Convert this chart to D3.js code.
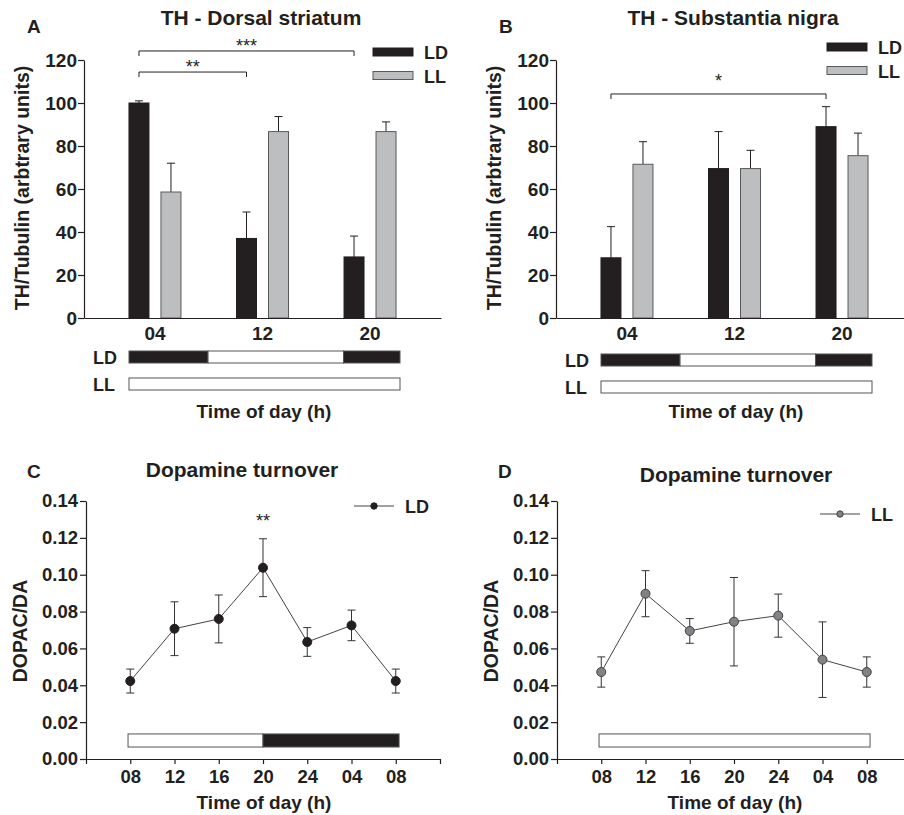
<!DOCTYPE html>
<html>
<head>
<meta charset="utf-8">
<script src="https://cdn.jsdelivr.net/npm/d3@7"></script>
<style>
body{margin:0;background:#fff}
text{font-family:"Liberation Sans",Arial,sans-serif;font-weight:bold;fill:#231f20}
</style>
</head>
<body>
<script>
var W=904, H=815
var ink='#231f20'

// A / B : TH western blots
var barTimes=['04','12','20']
var thTicks=[0,20,40,60,80,100,120]
var striatumLD=[100,37,28.4], striatumLDerr=[1,12.3,9.7]
var striatumLL=[58.6,86.7,86.7], striatumLLerr=[13.4,7,4.5]
var nigraLD=[28,69.5,89], nigraLDerr=[14.5,17.2,9.3]
var nigraLL=[71.5,69.5,75.5], nigraLLerr=[10.5,8.5,10.5]

// light schedule (hours) for the small bars under A / B
var schedLD=[[0,7,1],[7,19,0],[19,24,1]]
var schedLL=[[0,24,0]]

// C / D : dopamine turnover
var lineHours=[8,12,16,20,24,28,32]
var lineTimes=['08','12','16','20','24','04','08']
var turnTicks=[0,0.02,0.04,0.06,0.08,0.10,0.12,0.14]
var turnLD=[0.0423,0.0707,0.076,0.1038,0.0635,0.0725,0.0423]
var turnLDerr=[0.0065,0.0146,0.013,0.0157,0.0078,0.0083,0.0065]
var turnLL=[0.0472,0.0897,0.0695,0.0745,0.0778,0.0539,0.0472]
var turnLLerr=[0.0082,0.0125,0.0067,0.024,0.0117,0.0205,0.0082]
var schedC=[[7.8,20,0],[20,32.3,1]]
var schedD=[[7.8,32.3,0]]

var svg=d3.select('body').append('svg')
	.attr('width',W).attr('height',H)

function label(g,txt,x,y,size,anchor,rot){
	var t=g.append('text').text(txt)
		.attr('x',x).attr('y',y)
		.style('font-size',size+'px')
		.attr('text-anchor',anchor||'start')
	if(rot) t.attr('transform','rotate(-90,'+x+','+y+')')
	return t
}

function styleAxis(sel,size){
	sel.attr('color',ink)
	sel.selectAll('text').style('font-size',size+'px')
	sel.selectAll('line,path').attr('stroke-width',1.2)
}

function barPanel(p){
	var g=svg.append('g')
	var x=d3.scaleBand().domain(barTimes).range([p.left,p.left+357])
		.paddingInner(0).paddingOuter(0.16)
	var half=x.bandwidth()/2
	var xs=d3.scaleBand().domain(['LD','LL']).range([half-26,half+26]).paddingInner(0.375)
	var y=d3.scaleLinear().domain([0,120]).range([318,60])

	p.series.forEach(function(s){
		var gs=g.append('g')
		gs.selectAll('line.err').data(s.values).enter().append('line')
			.attr('x1',function(d,i){return x(barTimes[i])+xs(s.name)+xs.bandwidth()/2})
			.attr('x2',function(d,i){return x(barTimes[i])+xs(s.name)+xs.bandwidth()/2})
			.attr('y1',function(d){return y(d)})
			.attr('y2',function(d,i){return y(d+s.err[i])})
			.attr('stroke',ink).attr('stroke-width',1)
		gs.selectAll('line.cap').data(s.values).enter().append('line')
			.attr('x1',function(d,i){return x(barTimes[i])+xs(s.name)+xs.bandwidth()/2-4})
			.attr('x2',function(d,i){return x(barTimes[i])+xs(s.name)+xs.bandwidth()/2+4})
			.attr('y1',function(d,i){return y(d+s.err[i])})
			.attr('y2',function(d,i){return y(d+s.err[i])})
			.attr('stroke',ink).attr('stroke-width',1)
		gs.selectAll('rect').data(s.values).enter().append('rect')
			.attr('x',function(d,i){return x(barTimes[i])+xs(s.name)})
			.attr('y',function(d){return y(d)})
			.attr('width',xs.bandwidth())
			.attr('height',function(d){return y(0)-y(d)})
			.attr('fill',s.fill).attr('stroke',s.stroke).attr('stroke-width',1)
	})

	// significance brackets
	p.brackets.forEach(function(b){
		var x1=x(b.from)+xs('LD')+xs.bandwidth()/2,
			x2=x(b.to)+xs('LD')+xs.bandwidth()/2,
			yy=y(b.level)
		g.append('path')
			.attr('d','M'+x1+','+(yy+5)+'V'+yy+'H'+x2+'V'+(yy+5))
			.attr('fill','none').attr('stroke',ink).attr('stroke-width',1)
		label(g,b.label,(x1+x2)/2,yy+b.dy,18,'middle').style('font-weight','normal')
	})

	var ya=g.append('g').attr('transform','translate('+p.left+',0)')
		.call(d3.axisLeft(y).tickValues(thTicks).tickSize(6).tickSizeOuter(0).tickPadding(1))
	styleAxis(ya,19)
	var xa=g.append('g').attr('transform','translate(0,318)')
		.call(d3.axisBottom(x).tickSize(0).tickSizeOuter(0).tickPadding(9))
	styleAxis(xa,19)

	// legend
	p.series.forEach(function(s,i){
		g.append('rect').attr('x',p.legX).attr('y',p.legY+i*23.5)
			.attr('width',40).attr('height',8)
			.attr('fill',s.fill).attr('stroke',s.stroke)
		label(g,s.name,p.legX+51,p.legY+i*23.5+11,18)
	})

	// light schedule bars
	var lx=d3.scaleLinear().domain([0,24]).range([p.left+45,p.left+316])
	;[[schedLD,'LD',p.schedY],[schedLL,'LL',p.schedY+27]].forEach(function(r){
		g.selectAll(null).data(r[0]).enter().append('rect')
			.attr('x',function(d){return lx(d[0])})
			.attr('width',function(d){return lx(d[1])-lx(d[0])})
			.attr('y',r[2]).attr('height',12)
			.attr('fill',function(d){return d[2]?ink:'#fff'})
			.attr('stroke','#555').attr('stroke-width',1)
		label(g,r[1],p.left+9,r[2]+12.5,18)
	})

	label(g,p.letter,p.left-57,33,19)
	label(g,p.title,p.left+177,25,21,'middle')
	label(g,'TH/Tubulin (arbtrary units)',p.left-55,188,19.5,'middle',true)
	label(g,'Time of day (h)',p.left+180,418,19,'middle')
}

function linePanel(p){
	var g=svg.append('g')
	var x=d3.scaleLinear().domain([4,36]).range([p.left,p.left+354])
	var y=d3.scaleLinear().domain([0,0.14]).range([759,501])

	// light bar
	g.selectAll('rect.sched').data(p.sched).enter().append('rect')
		.attr('x',function(d){return x(d[0])})
		.attr('width',function(d){return x(d[1])-x(d[0])})
		.attr('y',y(0.0136)).attr('height',y(0.0065)-y(0.0136))
		.attr('fill',function(d){return d[2]?ink:'#fff'})
		.attr('stroke','#555').attr('stroke-width',1)

	var ya=g.append('g').attr('transform','translate('+p.left+',0)')
		.call(d3.axisLeft(y).tickValues(turnTicks).tickFormat(d3.format('.2f'))
			.tickSize(6).tickSizeOuter(0).tickPadding(2))
	styleAxis(ya,18.5)
	var xa=g.append('g').attr('transform','translate(0,759)')
		.call(d3.axisBottom(x).tickValues(lineHours)
			.tickFormat(function(d,i){return lineTimes[i]})
			.tickSize(5).tickSizeOuter(5).tickPadding(6))
	styleAxis(xa,18.5)

	// error bars
	g.selectAll('path.err').data(p.values).enter().append('path')
		.attr('d',function(d,i){
			var cx=x(lineHours[i]), t=y(d+p.err[i]), b=y(d-p.err[i])
			return 'M'+(cx-4)+','+t+'H'+(cx+4)+'M'+cx+','+t+'V'+b+'M'+(cx-4)+','+b+'H'+(cx+4)
		})
		.attr('fill','none').attr('stroke','#333').attr('stroke-width',1)

	var line=d3.line().x(function(d,i){return x(lineHours[i])}).y(function(d){return y(d)})
	g.append('path').datum(p.values).attr('d',line)
		.attr('fill','none').attr('stroke','#444').attr('stroke-width',1)

	g.selectAll('circle').data(p.values).enter().append('circle')
		.attr('cx',function(d,i){return x(lineHours[i])})
		.attr('cy',function(d){return y(d)})
		.attr('r',4.5)
		.attr('fill',p.fill).attr('stroke',p.stroke).attr('stroke-width',1)

	if(p.star){
		var i=lineHours.indexOf(p.star.at)
		label(g,p.star.label,x(p.star.at),y(p.values[i]+p.err[i])-12,18,'middle')
			.style('font-weight','normal')
	}

	// legend
	g.append('line').attr('x1',p.legX).attr('x2',p.legX+40)
		.attr('y1',p.legY).attr('y2',p.legY)
		.attr('stroke','#444').attr('stroke-width',1)
	g.append('circle').attr('cx',p.legX+20).attr('cy',p.legY).attr('r',3.2)
		.attr('fill',p.fill).attr('stroke',p.stroke)
	label(g,p.name,p.legX+51,p.legY+6.5,18)

	label(g,p.letter,p.left-59,478,19)
	label(g,'Dopamine turnover',p.left+p.titleDx,p.titleY,21,'middle')
	label(g,'DOPAC/DA',p.left-59,631,19.5,'middle',true)
	label(g,'Time of day (h)',p.left+178,809,19,'middle')
}

barPanel({
	left:84, letter:'A', title:'TH - Dorsal striatum', legX:373, legY:48, schedY:351,
	series:[
		{name:'LD',values:striatumLD,err:striatumLDerr,fill:ink,stroke:ink},
		{name:'LL',values:striatumLL,err:striatumLLerr,fill:'#bcbec0',stroke:'#58595b'}
	],
	brackets:[
		{from:'04',to:'20',level:124.2,label:'***',dy:1},
		{from:'04',to:'12',level:114.4,label:'**',dy:1}
	]
})

barPanel({
	left:556, letter:'B', title:'TH - Substantia nigra', legX:827, legY:43, schedY:354,
	series:[
		{name:'LD',values:nigraLD,err:nigraLDerr,fill:ink,stroke:ink},
		{name:'LL',values:nigraLL,err:nigraLLerr,fill:'#bcbec0',stroke:'#58595b'}
	],
	brackets:[
		{from:'04',to:'20',level:104.2,label:'*',dy:-7}
	]
})

linePanel({
	left:86, letter:'C', name:'LD', values:turnLD, err:turnLDerr,
	fill:ink, stroke:ink, sched:schedC, legX:354, legY:506,
	titleDx:156, titleY:477, star:{at:20,label:'**'}
})

linePanel({
	left:557, letter:'D', name:'LL', values:turnLL, err:turnLLerr,
	fill:'#808285', stroke:'#414042', sched:schedD, legX:820, legY:514,
	titleDx:179, titleY:482
})
</script>
</body>
</html>
